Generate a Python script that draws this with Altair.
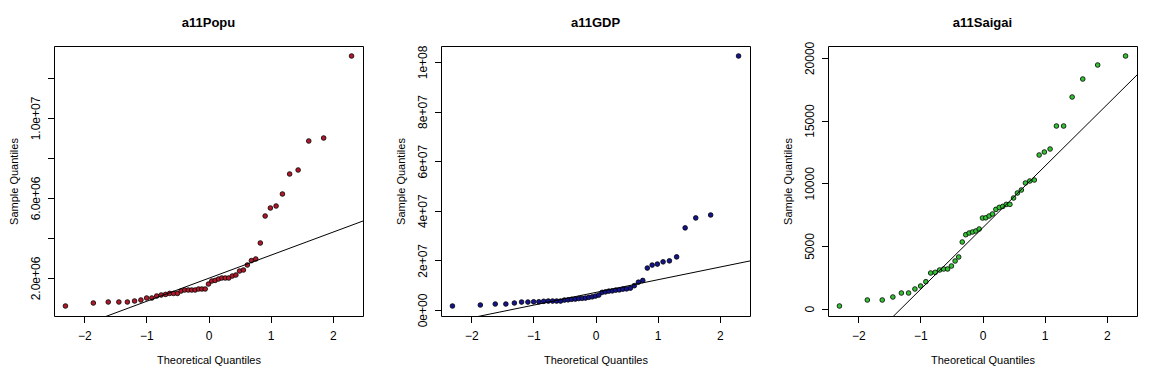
import altair as alt
import numpy as np
import pandas as pd

# Theoretical normal quantiles (n = 47) on the x axis
THEO = [-2.303, -1.854, -1.614, -1.443, -1.306, -1.190, -1.088, -0.996, -0.912,
        -0.834, -0.761, -0.691, -0.625, -0.562, -0.500, -0.441, -0.383, -0.326,
        -0.270, -0.215, -0.161, -0.107, -0.053, 0.000, 0.053, 0.107, 0.161,
        0.215, 0.270, 0.326, 0.383, 0.441, 0.500, 0.562, 0.625, 0.691, 0.761,
        0.834, 0.912, 0.996, 1.088, 1.190, 1.306, 1.443, 1.614, 1.854, 2.303]

# Sorted sample values
POPU = [600000, 750000, 800000, 800000, 800000, 850000, 900000, 1000000, 1000000,
        1100000, 1150000, 1180000, 1230000, 1230000, 1230000, 1350000, 1400000,
        1400000, 1400000, 1400000, 1450000, 1450000, 1450000, 1700000, 1850000,
        1880000, 1950000, 2000000, 2000000, 2000000, 2100000, 2150000, 2350000,
        2400000, 2650000, 2870000, 2950000, 3750000, 5100000, 5500000, 5600000,
        6200000, 7200000, 7400000, 8850000, 9000000, 13100000]

GDP = [1.6e6, 2.0e6, 2.4e6, 2.4e6, 2.8e6, 3.2e6, 3.2e6, 3.3e6, 3.3e6, 3.5e6,
       3.6e6, 3.6e6, 3.6e6, 3.6e6, 4.0e6, 4.1e6, 4.3e6, 4.4e6, 4.6e6, 4.7e6,
       4.8e6, 5.1e6, 5.3e6, 5.6e6, 6.0e6, 7.1e6, 7.3e6, 7.6e6, 7.7e6, 8.0e6,
       8.1e6, 8.4e6, 8.5e6, 8.8e6, 9.8e6, 11.2e6, 11.9e6, 16.9e6, 18.1e6,
       18.5e6, 19.4e6, 19.8e6, 21.4e6, 33.1e6, 37.1e6, 38.3e6, 102.4e6]

SAIGAI = [215, 694, 694, 933, 1252, 1252, 1571, 1810, 2153, 2847, 2900, 3085,
          3166, 3166, 3405, 3804, 4123, 5319, 5900, 6035, 6115, 6196, 6356, 7233,
          7250, 7392, 7552, 7920, 8078, 8158, 8317, 8320, 8828, 9226, 9465, 10024,
          10183, 10263, 12257, 12496, 12735, 14569, 14569, 16882, 18317, 19434,
          20152]

TITLES = ["a11Popu", "a11GDP", "a11Saigai"]
FILLS = ["#b0182a", "#14148e", "#33c233"]

X_TICKS = [-2, -1, 0, 1, 2]
POP_TICKS = [2e6, 4e6, 6e6, 8e6, 10e6, 12e6]
POP_LABELS = ["2.0e+06", "", "6.0e+06", "", "1.0e+07", ""]
GDP_TICKS = [0, 2e7, 4e7, 6e7, 8e7, 1e8]
GDP_LABELS = ["0e+00", "2e+07", "4e+07", "6e+07", "8e+07", "1e+08"]
SAI_TICKS = [0, 5000, 10000, 15000, 20000]
SAI_LABELS = ["0", "5000", "10000", "15000", "20000"]

FONT = "Liberation Sans"
W, H = 309, 270


def label_expr(ticks, labels):
    expr = "''"
    for t, l in reversed(list(zip(ticks, labels))):
        expr = f"datum.value == {int(t)} ? '{l}' : ({expr})"
    return expr


def expand(vals):
    lo, hi = min(vals), max(vals)
    pad = 0.04 * (hi - lo)
    return [lo - pad, hi + pad]


def panel(values, title, fill, ticks, labels):
    df = pd.DataFrame({"theo": THEO, "sample": values})
    xdom = expand(THEO)
    ydom = expand(values)
    q1, q3 = np.quantile(values, [0.25, 0.75])
    z = 0.6744897501960817
    slope = (q3 - q1) / (2 * z)
    inter = q1 + slope * z
    line_df = pd.DataFrame({"theo": xdom, "sample": [inter + slope * x for x in xdom]})

    xscale = alt.Scale(domain=xdom, nice=False, zero=False)
    yscale = alt.Scale(domain=ydom, nice=False, zero=False)

    xaxis = alt.Axis(values=X_TICKS, title="Theoretical Quantiles", format="d",
                     labelPadding=8, titlePadding=13, labelBaseline="top",
                     titleBaseline="top")
    yaxis = alt.Axis(values=ticks, labelExpr=label_expr(ticks, labels),
                     title="Sample Quantiles", labelAngle=270, labelAlign="center",
                     labelBaseline="bottom", labelPadding=5, titleAngle=270,
                     titleAlign="center", titleBaseline="bottom", titlePadding=10)

    pts = alt.Chart(df).mark_circle(
        fill=fill, stroke="black", strokeWidth=0.8, size=22, opacity=1
    ).encode(
        x=alt.X("theo:Q", scale=xscale, axis=xaxis),
        y=alt.Y("sample:Q", scale=yscale, axis=yaxis),
    )
    ln = alt.Chart(line_df).mark_line(color="black", strokeWidth=1, clip=True).encode(
        x=alt.X("theo:Q", scale=xscale),
        y=alt.Y("sample:Q", scale=yscale),
    )
    ttl = alt.Chart(pd.DataFrame({"t": [title]})).mark_text(
        font=FONT, fontSize=13, fontWeight="bold", color="black",
        align="center", baseline="alphabetic"
    ).encode(text="t:N", x=alt.value(W / 2), y=alt.value(-19))
    return alt.layer(pts, ln, ttl).properties(width=W, height=H)


p1 = panel(POPU, TITLES[0], FILLS[0], POP_TICKS, POP_LABELS)
p2 = panel(GDP, TITLES[1], FILLS[1], GDP_TICKS, GDP_LABELS)
p3 = panel(SAIGAI, TITLES[2], FILLS[2], SAI_TICKS, SAI_LABELS)

chart = alt.hconcat(p1, p2, p3, spacing=78, bounds="flush").configure(
    padding={"left": -1, "top": 8, "right": 5, "bottom": 5},
    background="white",
).configure_view(
    stroke="black", strokeWidth=1
).configure_axis(
    grid=False, domain=False, tickColor="black", tickSize=6.5, tickWidth=1,
    labelColor="black", labelFont=FONT, labelFontSize=12, labelOverlap=False,
    labelFlush=False, titleColor="black", titleFont=FONT, titleFontSize=11,
    titleFontWeight="normal",
)

chart.save("out.html", embed_options={"renderer": "svg", "actions": False})
